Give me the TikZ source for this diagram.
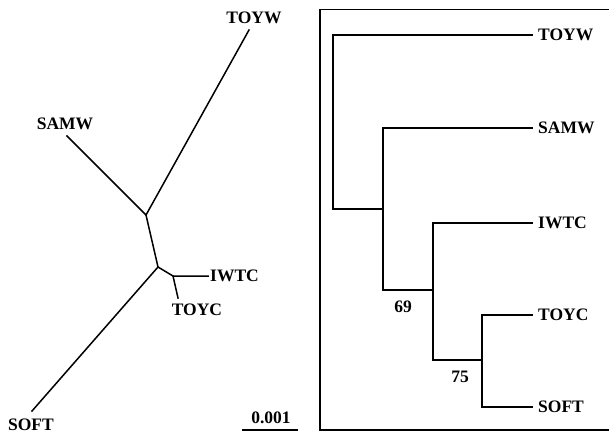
\documentclass[tikz,border=0pt]{standalone}
\usepackage{fontspec}
\setmainfont{Liberation Serif}
\begin{document}
\begin{tikzpicture}[x=1pt,y=-1pt,
  branch/.style={line width=1.5pt, line cap=rect},
  taxon/.style={inner sep=0pt, font=\fontsize{17.5}{20}\selectfont\bfseries},
  support/.style={inner sep=0pt, font=\fontsize{17.5}{20}\selectfont\bfseries}]
\useasboundingbox (0,0) rectangle (609,433);

% ---------- unrooted tree ----------
\coordinate (uA) at (146,215);
\coordinate (uB) at (158,267);
\coordinate (uC) at (173,276);
\coordinate (tTOYW) at (249,30);
\coordinate (tSAMW) at (67,136);
\coordinate (tSOFT) at (32,411);
\coordinate (tIWTC) at (208,276);
\coordinate (tTOYC) at (178,298);

\draw[branch] (tTOYW) -- (uA) -- (tSAMW);
\draw[branch] (uA) -- (uB) -- (tSOFT);
\draw[branch] (uB) -- (uC) -- (tIWTC);
\draw[branch] (uC) -- (tTOYC);

\node[taxon] (lTOYW) at (254,18) {TOYW};
\node[taxon] (lSAMW) at (65,124) {SAMW};
\node[taxon, anchor=west] (lIWTC) at (210,276) {IWTC};
\node[taxon] (lTOYC) at (197,310) {TOYC};
\node[taxon] (lSOFT) at (31,424.5) {SOFT};

% scale bar
\coordinate (sb1) at (242,430);
\coordinate (sb2) at (298,430);
\draw[line width=1.5pt] (sb1) -- (sb2);
\node[support] (sblabel) at (271,418) {0.001};

% ---------- rooted tree in a frame ----------
\draw[line width=1.3pt] (612,9.5) -- (320,9.5) -- (320,430) -- (612,430);

\coordinate (r0) at (333,209);
\coordinate (r1) at (383,209);
\coordinate (r2) at (433,290);
\coordinate (r3) at (482,360);

\coordinate (eTOYW) at (532,35);
\coordinate (eSAMW) at (532,128);
\coordinate (eIWTC) at (532,223);
\coordinate (eTOYC) at (532,315);
\coordinate (eSOFT) at (532,407);

\draw[branch] (eTOYW) -| (r0) -- (r1);
\draw[branch] (eSAMW) -| (r1) |- (r2);
\draw[branch] (eIWTC) -| (r2) |- (r3);
\draw[branch] (eTOYC) -| (r3) |- (eSOFT);

\node[taxon, anchor=west] (rTOYW) at (538,35) {TOYW};
\node[taxon, anchor=west] (rSAMW) at (538,128) {SAMW};
\node[taxon, anchor=west] (rIWTC) at (538,223) {IWTC};
\node[taxon, anchor=west] (rTOYC) at (538,315) {TOYC};
\node[taxon, anchor=west] (rSOFT) at (538,407) {SOFT};

\node[support] (bs69) at (403,307) {69};
\node[support] (bs75) at (460,377) {75};
\end{tikzpicture}
\end{document}
